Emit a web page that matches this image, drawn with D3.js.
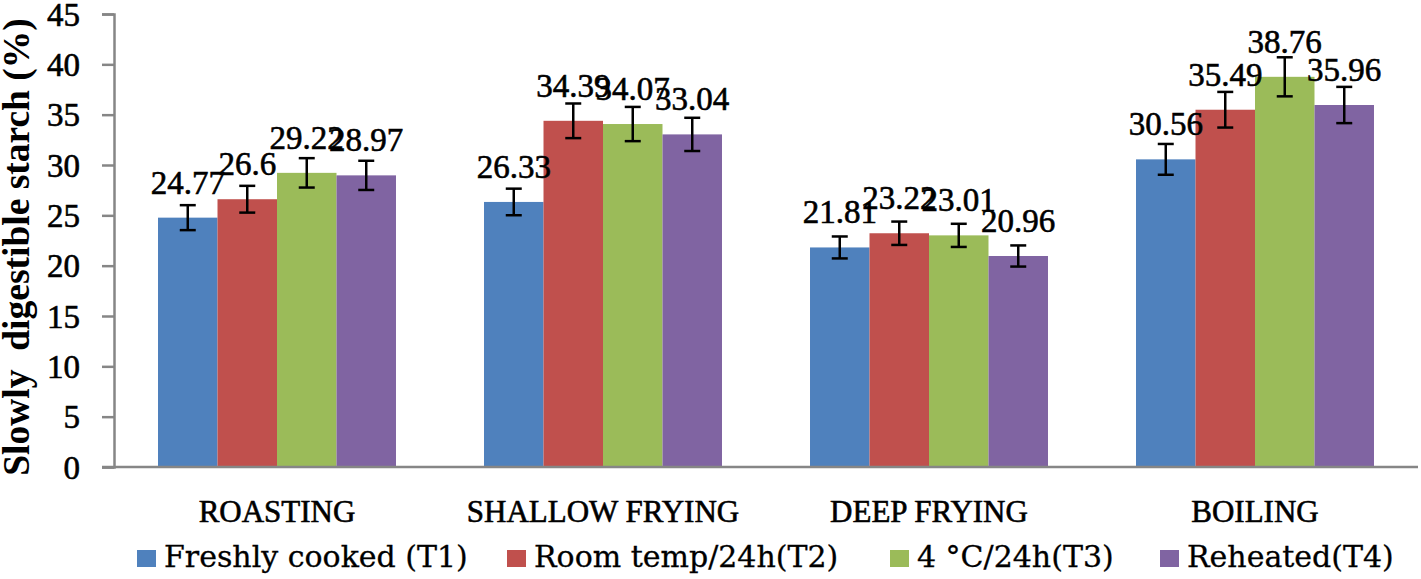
<!DOCTYPE html>
<html>
<head>
<meta charset="utf-8">
<script src="https://cdn.jsdelivr.net/npm/d3@7"></script>
<style>
  html, body { margin: 0; padding: 0; background: #fff; }
  svg { display: block; }
</style>
</head>
<body>
<svg id="chart" width="1421" height="579"></svg>
<script>
// ---- data ----
const categories = ["ROASTING", "SHALLOW FRYING", "DEEP FRYING", "BOILING"];
const seriesNames = ["Freshly cooked (T1)", "Room temp/24h(T2)", "4 °C/24h(T3)", "Reheated(T4)"];
const t1Values = [24.77, 26.33, 21.81, 30.56];
const t2Values = [26.6, 34.39, 23.22, 35.49];
const t3Values = [29.22, 34.07, 23.01, 38.76];
const t4Values = [28.97, 33.04, 20.96, 35.96];
const t1Errors = [1.24, 1.32, 1.09, 1.53];
const t2Errors = [1.33, 1.72, 1.16, 1.77];
const t3Errors = [1.46, 1.70, 1.15, 1.94];
const t4Errors = [1.45, 1.65, 1.05, 1.80];
const yTicks = [0, 5, 10, 15, 20, 25, 30, 35, 40, 45];
const yTitle = "Slowly  digestible starch (%)";

// ---- styles / layout ----
const colors = ["#4F81BD", "#C0504D", "#9BBB59", "#8064A2"];
const axisColor = "#868686";
const numFont = "'Liberation Serif', serif";
const legendFont = "'DejaVu Serif', serif";
const legendX = [137, 507, 890, 1160];
const heavy = 0.6; // extra stroke to mimic the heavier original face

const values = [t1Values, t2Values, t3Values, t4Values];
const errors = [t1Errors, t2Errors, t3Errors, t4Errors];

const svg = d3.select("#chart");

const x = d3.scaleBand().domain(categories).range([114, 1418])
  .paddingInner(0.27).paddingOuter(0.135);
const xs = d3.scaleBand().domain(d3.range(seriesNames.length)).range([0, x.bandwidth()]).padding(0);
const y = d3.scaleLinear().domain([0, 45]).range([467, 14]);

const recs = [];
categories.forEach((c, ci) => {
  seriesNames.forEach((s, si) => {
    recs.push({ c, si, v: values[si][ci], e: errors[si][ci] });
  });
});

// bars
svg.append("g").selectAll("rect").data(recs).join("rect")
  .attr("x", d => x(d.c) + xs(d.si))
  .attr("y", d => y(d.v))
  .attr("width", xs.bandwidth())
  .attr("height", d => y(0) - y(d.v))
  .attr("fill", d => colors[d.si]);

// y axis
const yAxis = d3.axisLeft(y).tickValues(yTicks).tickSize(12).tickPadding(0).tickFormat(d3.format("d"));
const gy = svg.append("g").attr("transform", "translate(114,0)").call(yAxis);
gy.select(".domain").attr("stroke", axisColor).attr("stroke-width", 2.5);
gy.selectAll(".tick line").attr("stroke", axisColor).attr("stroke-width", 2.5);
gy.selectAll(".tick text")
  .attr("x", -34).attr("dy", null).attr("y", 11)
  .attr("font-family", numFont).attr("font-size", 33).attr("fill", "#000")
  .attr("stroke", "#000").attr("stroke-width", heavy)
  .attr("text-anchor", "end");

// x axis line
svg.append("line")
  .attr("x1", 102).attr("x2", 1418)
  .attr("y1", y(0)).attr("y2", y(0))
  .attr("stroke", axisColor).attr("stroke-width", 2.5);

// category labels
svg.append("g").selectAll("text").data(categories).join("text")
  .attr("x", d => x(d) + x.bandwidth() / 2)
  .attr("y", 522)
  .attr("text-anchor", "middle")
  .attr("font-family", numFont).attr("font-size", 31)
  .attr("stroke", "#000").attr("stroke-width", heavy)
  .text(d => d);

// error bars
const eb = svg.append("g").attr("stroke", "#000").attr("stroke-width", 2.5);
recs.forEach(d => {
  const cx = x(d.c) + xs(d.si) + xs.bandwidth() / 2;
  const top = y(d.v + d.e), bot = y(d.v - d.e);
  eb.append("line").attr("x1", cx).attr("x2", cx).attr("y1", top).attr("y2", bot);
  eb.append("line").attr("x1", cx - 8).attr("x2", cx + 8).attr("y1", top).attr("y2", top);
  eb.append("line").attr("x1", cx - 8).attr("x2", cx + 8).attr("y1", bot).attr("y2", bot);
});

// data labels
svg.append("g").selectAll("text").data(recs).join("text")
  .attr("x", d => x(d.c) + xs(d.si) + xs.bandwidth() / 2)
  .attr("y", d => y(d.v) - 24)
  .attr("text-anchor", "middle")
  .attr("font-family", numFont).attr("font-size", 33)
  .attr("stroke", "#000").attr("stroke-width", heavy)
  .text(d => String(d.v));

// y title
svg.append("text")
  .attr("transform", "translate(29,247) rotate(-90)")
  .attr("text-anchor", "middle")
  .attr("font-family", numFont).attr("font-weight", "bold").attr("font-size", 37.5)
  .attr("xml:space", "preserve")
  .style("white-space", "pre")
  .text(yTitle);

// legend
const lg = svg.append("g").selectAll("g").data(seriesNames).join("g")
  .attr("transform", (d, i) => `translate(${legendX[i]},0)`);
lg.append("rect").attr("x", 0).attr("y", 550).attr("width", 19).attr("height", 17)
  .attr("fill", (d, i) => colors[i]);
lg.append("text").attr("x", 27).attr("y", 567)
  .attr("font-family", legendFont).attr("font-size", 30)
  .attr("stroke", "#000").attr("stroke-width", 0.3)
  .text(d => d);
</script>
</body>
</html>
